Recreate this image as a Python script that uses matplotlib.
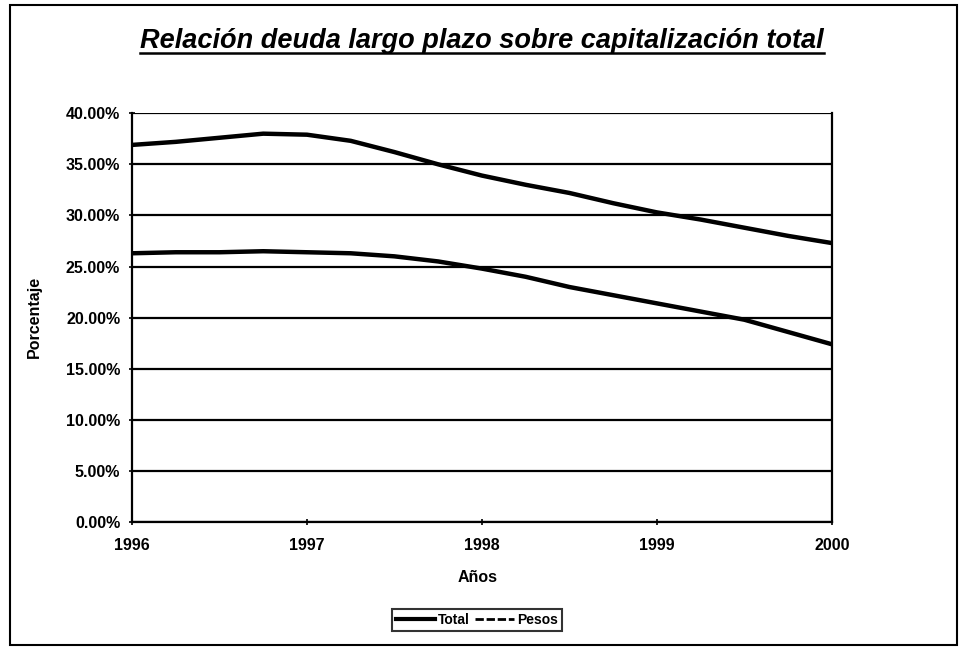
import matplotlib
matplotlib.use("Agg")
import matplotlib.pyplot as plt
from matplotlib.lines import Line2D
from matplotlib.patches import Rectangle
from matplotlib.ticker import FuncFormatter

plt.rcParams["font.family"] = ["Liberation Sans", "DejaVu Sans"]
plt.rcParams["font.weight"] = "bold"

years = [1996.0, 1996.25, 1996.5, 1996.75, 1997.0, 1997.25, 1997.5, 1997.75,
         1998.0, 1998.25, 1998.5, 1998.75, 1999.0, 1999.25, 1999.5, 1999.75, 2000.0]
total = [36.9, 37.2, 37.6, 38.0, 37.9, 37.3, 36.2, 35.0,
         33.9, 33.0, 32.2, 31.2, 30.3, 29.6, 28.8, 28.0, 27.3]
pesos = [26.3, 26.4, 26.4, 26.5, 26.4, 26.3, 26.0, 25.5,
         24.8, 24.0, 23.0, 22.2, 21.4, 20.6, 19.8, 18.6, 17.4]

fig = plt.figure(figsize=(9.6, 6.47), dpi=100)
ax = fig.add_axes([0.1375, 0.193, 0.729, 0.632])

ax.plot(years, total, color="black", lw=3.2, label="Total", solid_capstyle="butt")
ax.plot(years, pesos, color="black", lw=3.2, label="Pesos", solid_capstyle="butt")

ax.set_xlim(1996, 2000)
ax.set_ylim(0, 40)
ax.set_xticks([1996, 1997, 1998, 1999, 2000])
ax.set_yticks(range(0, 41, 5))
ax.yaxis.set_major_formatter(FuncFormatter(lambda v, p: f"{v:.2f}%"))
ax.grid(axis="y", color="black", lw=1.6)
ax.set_axisbelow(True)
ax.spines["top"].set_visible(False)
for s in ["left", "right", "bottom"]:
    ax.spines[s].set_linewidth(1.6)
ax.tick_params(axis="both", direction="inout", length=5, width=1.2, labelsize=11.5)
ax.tick_params(axis="x", pad=9)
ax.tick_params(axis="y", pad=6)

fig.text(0.497, 1 - 577 / 647, "Años", ha="center", va="center", fontsize=11.5,
         fontweight="bold")
fig.text(0.036, 0.51, "Porcentaje", ha="center", va="center", rotation=90,
         fontsize=11.5, fontweight="bold")

title = fig.text(0.502, 0.926, "Relación deuda largo plazo sobre capitalización total",
                 ha="center", va="baseline", fontsize=19.5, fontweight="bold",
                 fontstyle="italic")

leg = fig.legend(handles=[Line2D([], [], color="black", lw=3, label="Total"),
                          Line2D([], [], color="black", lw=2, ls=(0, (3, 1)),
                                 label="Pesos")],
                 loc="center", bbox_to_anchor=(0.497, 0.042), ncol=2,
                 fancybox=False, edgecolor="black", handlelength=2.8,
                 handletextpad=0.2, columnspacing=0.4, borderpad=0.3,
                 borderaxespad=0, prop={"weight": "bold", "size": 10})
leg.get_frame().set_linewidth(1.5)

fig.patches.append(Rectangle((0.0104, 0.003), 0.9866, 0.989, transform=fig.transFigure,
                             fill=False, edgecolor="black", lw=1.5))

# underline the title
fig.canvas.draw()
bb = title.get_window_extent().transformed(fig.transFigure.inverted())
y_ul = 1 - 52.5 / 647
fig.add_artist(Line2D([bb.x0, bb.x1], [y_ul, y_ul],
                      transform=fig.transFigure, color="black", lw=1.8))

fig.savefig("out.png", dpi=100)
